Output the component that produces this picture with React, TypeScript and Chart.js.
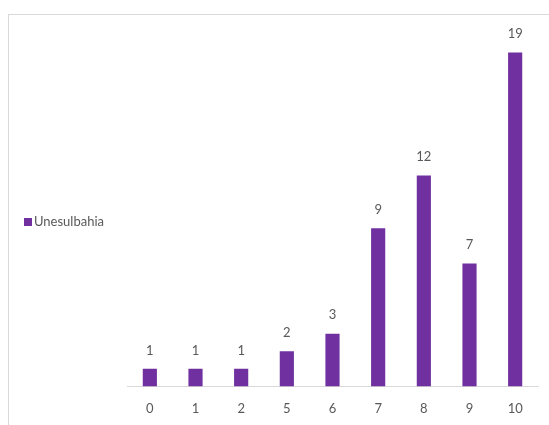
import React, { useEffect, useRef } from "react";
import { Chart, registerables } from "chart.js";

Chart.register(...registerables);

const categories = ["0", "1", "2", "5", "6", "7", "8", "9", "10"];
const seriesName = "Unesulbahia";
const values = [1, 1, 1, 2, 3, 9, 12, 7, 19];
const barColor = "#7030A0";
const textColor = "#595959";
const fontFamily = "Lato, 'Liberation Sans', sans-serif";

const dataLabelPlugin = {
  id: "dataLabels",
  afterDatasetsDraw(chart: any) {
    const ctx = chart.ctx;
    ctx.save();
    ctx.fillStyle = textColor;
    ctx.font = `13px ${fontFamily}`;
    ctx.textAlign = "center";
    ctx.textBaseline = "bottom";
    chart.data.datasets.forEach((ds: any, di: number) => {
      const meta = chart.getDatasetMeta(di);
      meta.data.forEach((bar: any, i: number) => {
        ctx.fillText(String(ds.data[i]), bar.x, bar.y - 12);
      });
    });
    ctx.restore();
  },
};

// Legend drawn at the left, vertically centred as in the reference
const sideLegendPlugin = {
  id: "sideLegend",
  afterDraw(chart: any) {
    const ctx = chart.ctx;
    ctx.save();
    ctx.font = `13px ${fontFamily}`;
    ctx.textBaseline = "middle";
    ctx.textAlign = "left";
    const cy = 207;
    chart.data.datasets.forEach((ds: any) => {
      ctx.fillStyle = ds.backgroundColor;
      ctx.fillRect(15, cy - 4, 8, 8);
      ctx.fillStyle = textColor;
      ctx.fillText(ds.label, 25, cy);
    });
    ctx.restore();
  },
};

export default function App() {
  const ref = useRef<HTMLCanvasElement | null>(null);
  useEffect(() => {
    if (!ref.current) return;
    const chart = new Chart(ref.current, {
      type: "bar",
      data: {
        labels: categories,
        datasets: [
          {
            label: seriesName,
            data: values,
            backgroundColor: barColor,
            borderWidth: 0,
            barPercentage: 0.31,
            categoryPercentage: 1,
          },
        ],
      },
      options: {
        animation: false,
        responsive: false,
        maintainAspectRatio: false,
        layout: { padding: { left: 118, right: 11, top: 20, bottom: -7 } },
        plugins: {
          legend: { display: false },
          tooltip: { enabled: false },
        },
        scales: {
          x: {
            grid: { display: false, drawTicks: false },
            border: { display: true, color: "#d9d9d9", width: 1 },
            ticks: { color: textColor, padding: 15, font: { family: fontFamily, size: 13 } },
          },
          y: {
            display: false,
            min: 0,
            max: 20,
          },
        },
      },
      plugins: [dataLabelPlugin, sideLegendPlugin],
    });
    return () => chart.destroy();
  }, []);
  return (
    <div
      style={{
        position: "fixed",
        left: 8,
        top: 14,
        width: 541,
        height: 411,
        borderTop: "1px solid #d9d9d9",
        borderLeft: "1px solid #d9d9d9",
        boxSizing: "border-box",
        background: "#fff",
      }}
    >
      <canvas ref={ref} width={540} height={410} style={{ display: "block" }} />
    </div>
  );
}
